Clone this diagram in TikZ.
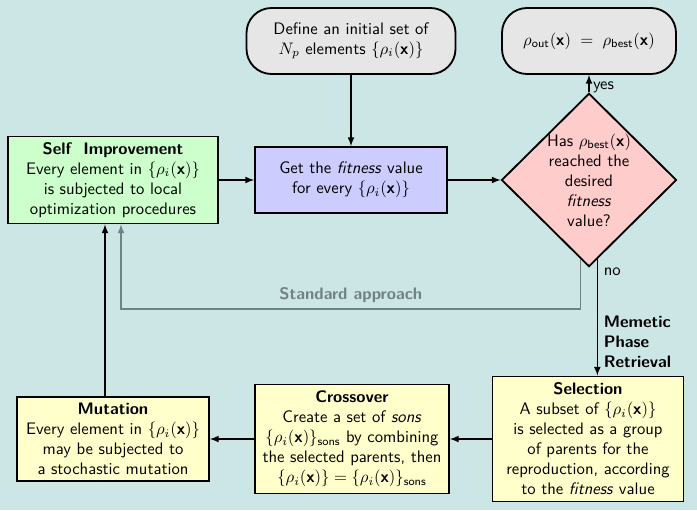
\documentclass[tikz,border=0pt]{standalone}
\usepackage{amsmath}
\usepackage{amssymb}
\usetikzlibrary{shapes.geometric,calc}

\definecolor{bgteal}{RGB}{204,229,229}
\definecolor{stdgray}{RGB}{112,130,130}
\definecolor{boxgreen}{RGB}{204,255,204}
\definecolor{boxblue}{RGB}{204,204,255}
\definecolor{boxred}{RGB}{255,204,204}
\definecolor{boxyellow}{RGB}{255,255,204}
\definecolor{boxgray}{RGB}{230,230,230}

\newcommand{\vx}{\textbf{x}}
\newcommand{\rhoset}{\{\rho_i(\vx)\}}

\begin{document}
\begin{tikzpicture}[x = 0.6pt, y = -0.6pt, line width = 0.8pt, >=latex,
                    box/.style = {rectangle, draw, line width = 1.1pt, align = center,
                                  font = \sffamily, inner sep = 2pt},
                    endbox/.style = {box, fill = boxgray, rounded corners = 15pt,
                                     minimum height = 39.6pt},
                    test/.style = {diamond, draw, line width = 1.1pt, fill = boxred, align = center,
                                   font = \sffamily, inner sep = -8pt,
                                   minimum width = 105pt, minimum height = 104pt},
                    stdline/.style = {stdgray, line width = 0.8pt},
                    lbl/.style = {font = \sffamily}]

\fill[bgteal] (0,0) rectangle (697,510);

% start and end
\node [endbox, minimum width = 125.4pt] (define) at (351,41)
      {Define an initial set of \\ $N_p$ elements $\rhoset$};
\node [endbox, minimum width = 104.4pt] (out) at (589,41)
      {$\rho_{\text{out}}(\vx)\;=\;\rho_{\text{best}}(\vx)$};

% middle row
\node [box, fill = boxgreen, minimum width = 126pt, minimum height = 52.2pt] (self) at (113,180)
      {\textbf{Self\ \ Improvement} \\ Every element in $\rhoset$ \\ is subjected to local \\ optimization procedures};
\node [box, fill = boxblue, minimum width = 115.2pt, minimum height = 39.6pt] (fit) at (351,180)
      {Get the \textit{fitness} value \\ for every $\rhoset$};
\node [test] (check) at (589,180)
      {Has $\rho_{\text{best}}(\vx)$ \\ reached the \\ desired \\ \textit{fitness} \\ value?};

% bottom row
\node [box, fill = boxyellow, minimum width = 114.6pt, minimum height = 75pt] (sel) at (588,439)
      {\textbf{Selection} \\ A subset of $\rhoset$ \\ is selected as a group \\ of parents for the \\
       reproduction, according \\ to the \textit{fitness} value};
\node [box, fill = boxyellow, minimum width = 116.4pt, minimum height = 65.4pt] (cross) at (352,439)
      {\textbf{Crossover} \\ Create a set of \textit{sons} \\ $\rhoset_{\text{sons}}$ by combining \\
       the selected parents, then \\ $\rhoset = \rhoset_{\text{sons}}$};
\node [box, fill = boxyellow, minimum width = 115.2pt, minimum height = 50.4pt] (mut) at (113,439)
      {\textbf{Mutation} \\ Every element in $\rhoset$ \\ may be subjected to \\ a stochastic mutation};

\coordinate (stdcorner) at (121,309);

% connectors
\draw[->] (define) -- (fit);
\draw[->] (self) -- (fit);
\draw[->] (fit) -- (check);
\draw[->] (check.north) -- (out.south) node[lbl, pos = 0.3, right, inner sep = 2pt] {yes};

\draw[stdline, ->] (check.-96) |- (stdcorner)
      node[pos = 0.75, above, font = \sffamily\bfseries, text = stdgray] {Standard approach}
      -- (stdcorner |- self.south);

\draw[->] (check.-84) -- (check.-84 |- sel.north)
      node[lbl, pos = 0.11, right, inner sep = 3.5pt] {no}
      node[pos = 0.71, right, align = left, inner sep = 3.5pt, font = \sffamily\bfseries]
          {Memetic \\ Phase \\ Retrieval};

\draw[->] (sel) -- (cross);
\draw[->] (cross) -- (mut);
\draw[->] ($(mut.north)+(-8,0)$) -- ($(self.south)+(-8,0)$);
\end{tikzpicture}
\end{document}
